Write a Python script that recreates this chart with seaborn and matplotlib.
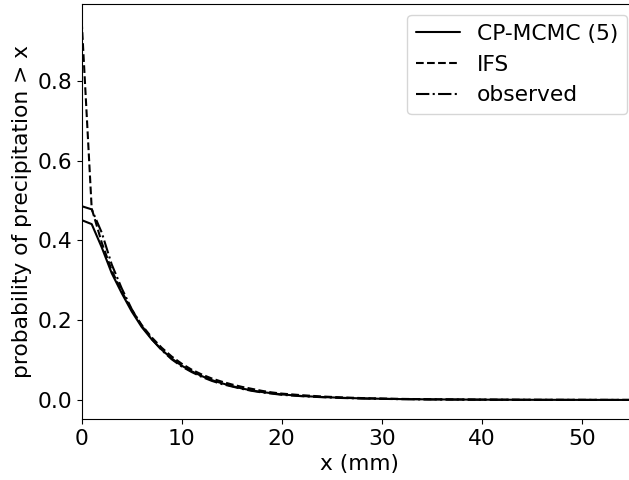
import matplotlib
matplotlib.use("Agg")
import matplotlib.pyplot as plt
import numpy as np
import pandas as pd
import seaborn as sns

# precipitation thresholds (mm)
X_MM = [0, 1, 2, 3, 4, 5, 6, 7, 8, 9, 10, 11, 12, 13, 14, 15, 16, 17, 18, 19,
        20, 22, 24, 26, 28, 30, 32, 35, 40, 45, 50, 55, 56]

CP_MCMC = [0.451, 0.441, 0.383, 0.318, 0.268, 0.222, 0.183, 0.152, 0.126, 0.104,
           0.086, 0.072, 0.060, 0.050, 0.042, 0.035, 0.029, 0.024, 0.020, 0.017,
           0.014, 0.010, 0.0075, 0.0055, 0.004, 0.003, 0.0022, 0.0015, 0.0008,
           0.0004, 0.0002, 0.0001, 0.0001]

IFS = [0.950, 0.480, 0.395, 0.325, 0.272, 0.226, 0.188, 0.157, 0.131, 0.109,
       0.091, 0.076, 0.064, 0.054, 0.046, 0.039, 0.033, 0.028, 0.023, 0.019,
       0.016, 0.012, 0.0088, 0.0065, 0.0048, 0.0036, 0.0027, 0.0018, 0.0009,
       0.0005, 0.0003, 0.0001, 0.0001]

OBSERVED = [0.486, 0.478, 0.420, 0.340, 0.280, 0.228, 0.186, 0.153, 0.125, 0.102,
            0.084, 0.070, 0.058, 0.048, 0.040, 0.034, 0.028, 0.023, 0.019, 0.016,
            0.013, 0.0095, 0.007, 0.005, 0.0037, 0.0028, 0.002, 0.0013, 0.0007,
            0.0003, 0.0002, 0.0001, 0.0001]

FS = 15.7
X_MAX = 55.63


def main():
    sns.set_style("ticks", rc={"text.color": "black", "axes.labelcolor": "black",
                               "xtick.color": "black", "ytick.color": "black",
                               "axes.edgecolor": "black"})
    plt.rcParams['font.family'] = ['DejaVu Sans']
    plt.rcParams['font.size'] = FS

    df = pd.DataFrame({"x": X_MM, "cp": CP_MCMC, "ifs": IFS, "obs": OBSERVED})

    fig = plt.figure(figsize=(6.29, 4.8), dpi=100)
    ax = fig.add_axes([81.7 / 629, 61 / 480, X_MAX * 10 / 629, 415 / 480])

    sns.lineplot(x="x", y="cp", data=df, color="black", linestyle="-",
                 linewidth=1.5, label="CP-MCMC (5)", ax=ax)
    sns.lineplot(x="x", y="ifs", data=df, color="black", linestyle="--",
                 linewidth=1.5, label="IFS", ax=ax)
    sns.lineplot(x="x", y="obs", data=df, color="black", linestyle="-.",
                 linewidth=1.5, label="observed", ax=ax)

    ax.set_xlim(0, X_MAX)
    ax.set_ylim(-0.0477, 0.993)
    ax.set_xticks([0, 10, 20, 30, 40, 50])
    ax.set_yticks([0.0, 0.2, 0.4, 0.6, 0.8])
    ax.tick_params(labelsize=FS)
    ax.set_xlabel("x (mm)", fontsize=FS)
    ax.set_ylabel("probability of precipitation > x", fontsize=FS)
    ax.legend(loc="upper right", fontsize=FS)

    fig.savefig("out.png", dpi=100)
    plt.close(fig)


if __name__ == '__main__':
    main()
